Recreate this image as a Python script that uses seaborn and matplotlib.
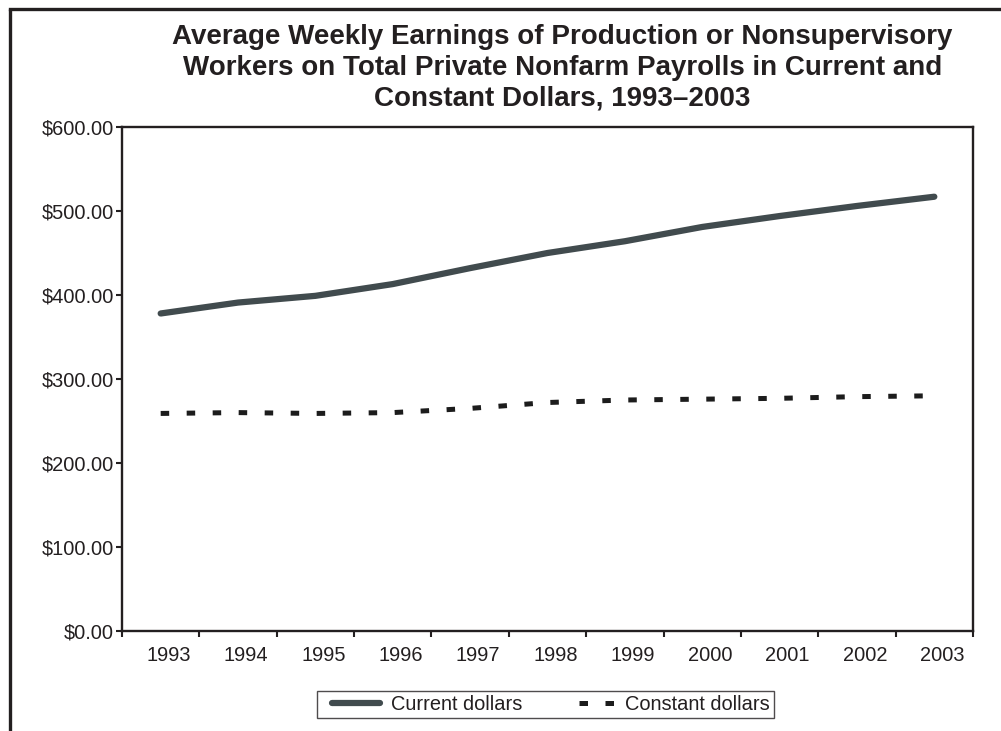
import matplotlib
matplotlib.use("Agg")
import matplotlib.pyplot as plt
from matplotlib.lines import Line2D
from matplotlib.legend_handler import HandlerLine2D
from matplotlib.ticker import FixedLocator, FuncFormatter
from matplotlib.transforms import ScaledTranslation
import seaborn as sns
import pandas as pd

years = [1993, 1994, 1995, 1996, 1997, 1998, 1999, 2000, 2001, 2002, 2003]
current_dollars = [378, 391, 399, 413, 432, 450, 464, 481, 494, 506, 517]
constant_dollars = [259, 260, 259, 260, 265, 272, 275, 276, 277, 279, 280]
series_names = ["Current dollars", "Constant dollars"]
title_text = ("Average Weekly Earnings of Production or Nonsupervisory\n"
              "Workers on Total Private Nonfarm Payrolls in Current and\n"
              "Constant Dollars, 1993\u20132003")
y_ticks = [0, 100, 200, 300, 400, 500, 600]

df = pd.DataFrame({
    "year": years * 2,
    "value": current_dollars + constant_dollars,
    "series": [series_names[0]] * len(years) + [series_names[1]] * len(years),
})

sns.set_theme(style="white")
plt.rcParams["font.family"] = ["Liberation Sans", "DejaVu Sans"]

W, H = 1001, 731
fig = plt.figure(figsize=(W / 100, H / 100), dpi=100)
ax = fig.add_axes([122 / W, 1 - 631 / H, (973 - 122) / W, (631 - 127) / H])

ink = "#231f20"
solid_col = "#414b4e"
dash_col = "#1c1c1c"
dash_pat = (1.7, 3.5)
sns.lineplot(data=df, x="year", y="value", hue="series", style="series",
             palette={series_names[0]: solid_col, series_names[1]: dash_col},
             dashes={series_names[0]: "", series_names[1]: dash_pat},
             linewidth=3.6, ax=ax, legend=False)
lines = ax.get_lines()
for ln in lines:
    ln.set_solid_capstyle("round")
    ln.set_dash_capstyle("butt")
lines[0].set_linewidth(4.5)

ax.set_xlim(years[0] - 0.5, years[-1] + 0.5)
ax.set_ylim(0, 600)
ax.set_xlabel("")
ax.set_ylabel("")

ax.xaxis.set_major_locator(FixedLocator([y - 0.5 for y in years] + [years[-1] + 0.5]))
ax.xaxis.set_major_formatter(FuncFormatter(lambda v, p: ""))
ax.xaxis.set_minor_locator(FixedLocator(years))
ax.xaxis.set_minor_formatter(FuncFormatter(lambda v, p: f"{int(round(v))}"))
ax.tick_params(axis="x", which="major", length=4, width=1.5, color=ink, direction="out", bottom=True)
ax.tick_params(axis="x", which="minor", length=0, pad=10.5, labelsize=14.4, labelcolor=ink, bottom=True)

ax.set_yticks(y_ticks)
ax.yaxis.set_major_formatter(FuncFormatter(lambda v, p: f"${v:,.2f}"))
ax.tick_params(axis="y", length=4, width=1.5, color=ink, direction="out", left=True,
               pad=2, labelsize=14.4, labelcolor=ink)

fig.canvas.draw()
shift = ScaledTranslation(8 / 100, 0, fig.dpi_scale_trans)
for lab in ax.xaxis.get_minorticklabels():
    lab.set_transform(lab.get_transform() + shift)

for s in ax.spines.values():
    s.set_visible(True)
    s.set_color(ink)
    s.set_linewidth(1.7)
ax.grid(False)

fig.text(562.5 / W, 1 - 24 / H, title_text, ha="center", va="top",
         fontsize=20, fontweight="bold", color=ink, linespacing=1.25)

h_solid = Line2D([], [], color=solid_col, linewidth=4.5, solid_capstyle="round")
h_dash = Line2D([], [], color=dash_col, linewidth=3.6, dash_capstyle="butt",
                linestyle=(2.6, dash_pat))
leg = fig.legend([h_solid, h_dash], series_names, loc="center",
                 bbox_to_anchor=(545.5 / W, 1 - 704 / H), ncol=2,
                 fontsize=14.4, frameon=True, fancybox=False, shadow=False,
                 handlelength=2.95, handletextpad=0.55, columnspacing=1.65,
                 borderpad=0.2, borderaxespad=0,
                 handler_map={Line2D: HandlerLine2D(xpad=0.55)})
leg.get_frame().set_edgecolor(ink)
leg.get_frame().set_linewidth(1.0)
leg.get_frame().set_facecolor("white")
for t in leg.get_texts():
    t.set_color(ink)

# outer border (left and top only)
fig.add_artist(Line2D([10 / W, 10 / W], [0, 1 - 9 / H], transform=fig.transFigure,
                      color=ink, linewidth=2.4, solid_capstyle="butt"))
fig.add_artist(Line2D([10 / W, 1], [1 - 9 / H, 1 - 9 / H], transform=fig.transFigure,
                      color=ink, linewidth=2.4, solid_capstyle="projecting"))

fig.savefig("out.png", dpi=100, facecolor="white")
